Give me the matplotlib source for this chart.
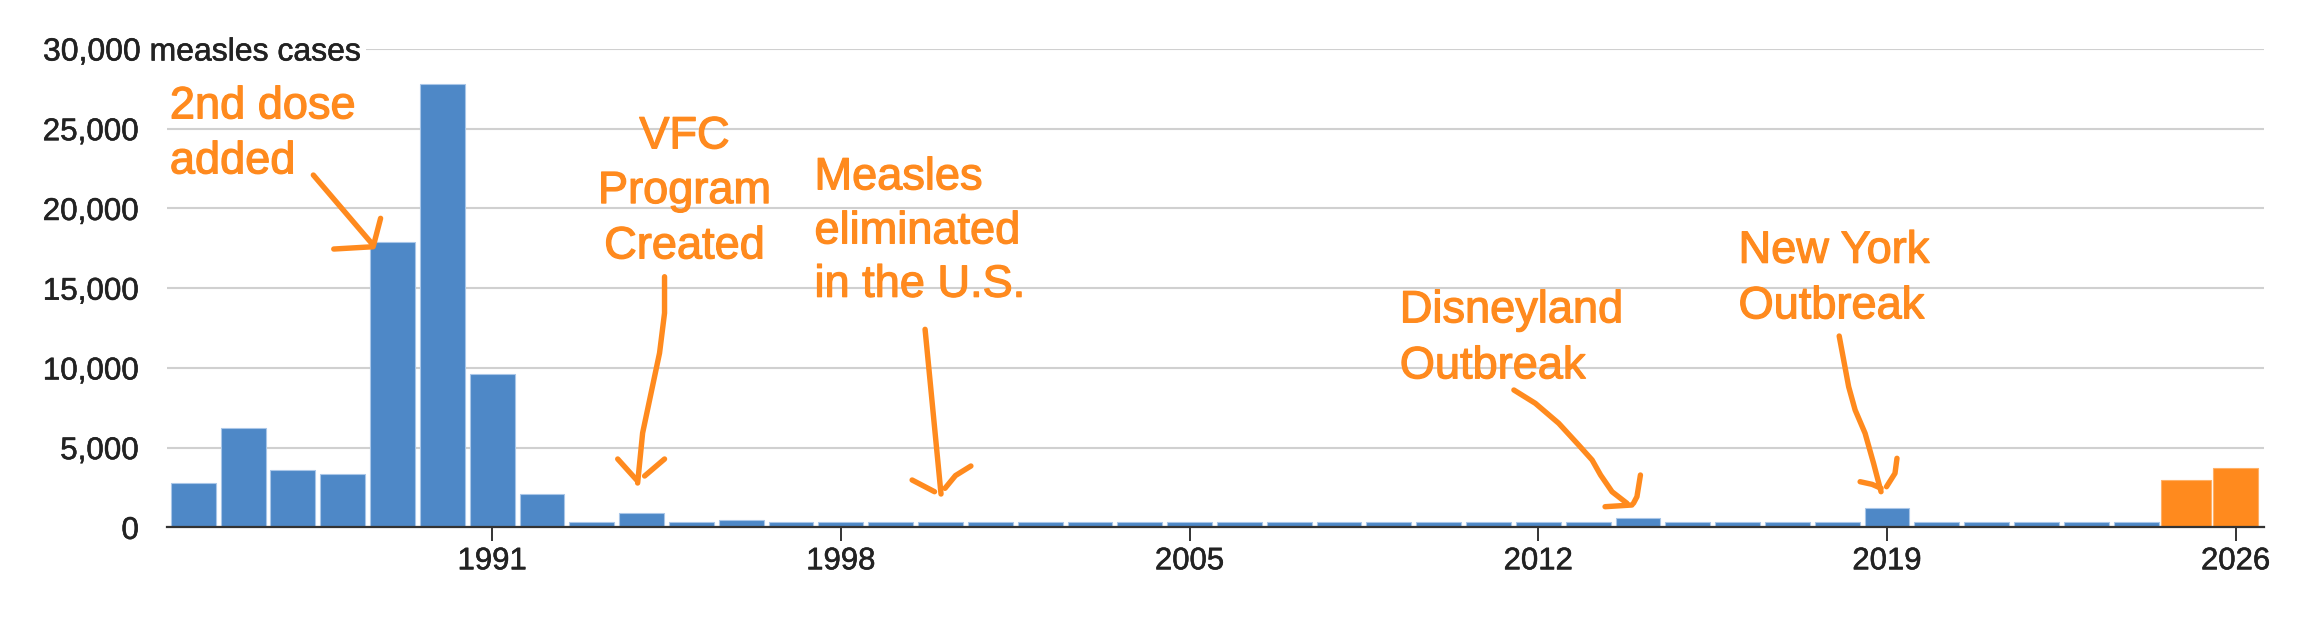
import matplotlib
matplotlib.use("Agg")
import matplotlib.pyplot as plt
import matplotlib.patheffects as pe
import numpy as np

plt.rcParams['font.family'] = ['Liberation Sans', 'DejaVu Sans']

# ---------------- data ----------------
years = list(range(1985, 2025))
cases = [2800, 6240, 3620, 3370, 17900, 27800, 9610, 2100, 332, 880,
         332, 460, 332, 332, 332, 332, 332, 332, 332, 332,
         332, 332, 332, 332, 332, 332, 332, 332, 332, 620,
         332, 332, 332, 332, 1200, 332, 332, 332, 332, 332]
recent_years = [2025, 2026]
recent_cases = [2950, 3710]

xtick_years = [1991, 1998, 2005, 2012, 2019, 2026]
ytick_values = [0, 5000, 10000, 15000, 20000, 25000, 30000]
ytick_labels = ["0", "5,000", "10,000", "15,000", "20,000", "25,000", ""]
top_label = "30,000 measles cases"

# annotations: (text lines, x, baselines, alignment)
annotations = [
    (["2nd dose", "added"], 1984.53, [25650, 22200], 'left'),
    (["VFC", "Program", "Created"], 1994.86, [23770, 20340, 16870], 'center'),
    (["Measles", "eliminated", "in the U.S."], 1997.47, [21200, 17810, 14465], 'left'),
    (["Disneyland", "Outbreak"], 2009.22, [12860, 9350], 'left'),
    (["New York", "Outbreak"], 2016.02, [16600, 13110], 'left'),
]

# hand-drawn arrow strokes in data coordinates (year, cases)
arrow_strokes = [
    # 2nd dose
    ([1987.41, 1988.61], [22096, 17707]),
    ([1987.82, 1988.61], [17456, 17600]),
    ([1988.76, 1988.62], [19381, 17707]),
    # VFC
    ([1994.46, 1994.46, 1994.36, 1994.16, 1994.02, 1993.92],
     [15719, 13443, 10935, 7988, 5919, 2784]),
    ([1993.52, 1993.90], [4289, 2972]),
    ([1994.46, 1994.06], [4289, 3223]),
    # Measles eliminated
    ([1999.69, 2000.01], [12421, 2094]),
    ([1999.43, 1999.88], [2972, 2238]),
    ([2000.61, 2000.30, 2000.09], [3850, 3250, 2452]),
    # Disneyland
    ([2011.51, 2011.94, 2012.41, 2012.81, 2013.08, 2013.25, 2013.48, 2013.78],
     [8615, 7781, 6527, 5166, 4226, 3285, 2238, 1511]),
    ([2013.34, 2013.88], [1298, 1404]),
    ([2014.05, 2013.98, 2013.91], [3285, 1925, 1511]),
    # New York
    ([2018.04, 2018.13, 2018.23, 2018.36, 2018.56, 2018.73, 2018.88],
     [12001, 10496, 8822, 7361, 5900, 4019, 2238]),
    ([2018.46, 2018.70, 2018.88], [2865, 2700, 2452]),
    ([2019.20, 2019.16, 2018.99], [4333, 3392, 2552]),
]

BLUE = '#4e88c7'
ORANGE = '#ff8a1e'
GRID = '#d0d0d0'
DARK = '#333333'
TXT = '#222222'

fig = plt.figure(figsize=(23, 6.24), dpi=100)
ax = fig.add_axes([0.07248, 0.15481, 0.91187, 0.76667])

ax.bar(years, cases, width=0.9, color=BLUE, edgecolor='#a9c6e8',
       linewidth=0.8, zorder=2)
ax.bar(recent_years, recent_cases, width=[0.99, 0.9], color=ORANGE,
       edgecolor='#ffb066', linewidth=0.8, zorder=2.1)

ax.set_xlim(1984.4665, 2026.5676)
ax.set_ylim(0, 30000)

ax.set_yticks(ytick_values)
ax.set_yticklabels(ytick_labels)
ax.set_xticks(xtick_years)
ax.set_xticklabels([str(y) for y in xtick_years])

ax.set_axisbelow(True)
ax.grid(axis='y', color=GRID, linewidth=1.5)
ax.grid(axis='x', visible=False)

for s in ['top', 'right', 'left']:
    ax.spines[s].set_visible(False)
ax.spines['bottom'].set_color(DARK)
ax.spines['bottom'].set_linewidth(1.6)
ax.spines['bottom'].set_zorder(3)

ax.tick_params(axis='y', length=0, pad=20, labelsize=22.6, labelcolor=TXT)
ax.tick_params(axis='x', length=10, width=1.4, color=DARK, pad=3.6,
               labelsize=22.4, labelcolor=TXT)

tick_fx = [pe.withStroke(linewidth=0.4, foreground=TXT)]
for lab in ax.get_xticklabels() + ax.get_yticklabels():
    lab.set_path_effects(tick_fx)

ax.text(-0.05898, 30000, top_label, transform=ax.get_yaxis_transform(),
        ha='left', va='center_baseline', fontsize=23, color=TXT,
        bbox=dict(facecolor='white', edgecolor='none', pad=3.5),
        zorder=4, clip_on=False, path_effects=tick_fx)

ann_fx = [pe.withStroke(linewidth=0.9, foreground=ORANGE)]
for lines, x, baselines, ha in annotations:
    for line, yb in zip(lines, baselines):
        ax.text(x, yb, line, ha=ha, va='baseline', fontsize=32.5,
                color=ORANGE, zorder=5, clip_on=False, path_effects=ann_fx)

for xs, ys in arrow_strokes:
    ax.plot(xs, ys, color=ORANGE, linewidth=3.9, solid_capstyle='round',
            solid_joinstyle='round', zorder=5, clip_on=False)

fig.savefig('out.png', dpi=100)
